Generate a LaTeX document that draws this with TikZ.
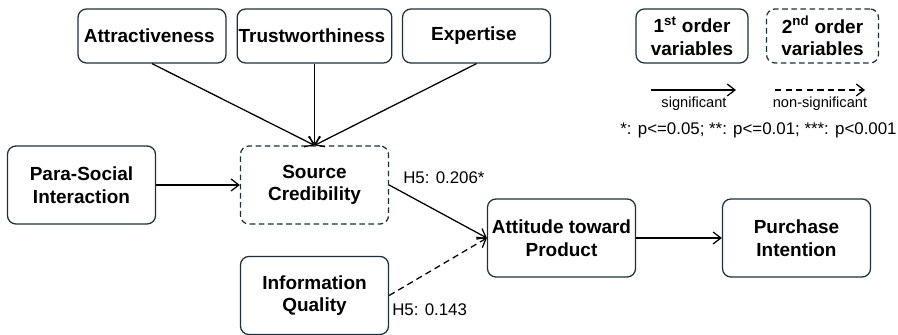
\documentclass[tikz,border=0pt]{standalone}
\usepackage{fontspec}
\setmainfont{Liberation Sans}
\usetikzlibrary{arrows.meta,positioning}
\definecolor{boxline}{RGB}{28,48,60}

\begin{document}
\begin{tikzpicture}[
    >={Straight Barb[length=5.5pt,width=8.5pt]},
    var/.style={
        rectangle,
        rounded corners=6pt,
        draw=boxline,
        line width=0.9pt,
        align=center,
        inner sep=1pt,
        minimum width=3.7cm,
        minimum height=1.95cm,
        font=\fontsize{13.5}{16}\selectfont\bfseries
    },
    topvar/.style={var, minimum height=1.35cm},
    second/.style={dash pattern=on 4pt off 2.5pt},
    keyvar/.style={var, minimum width=2.8cm, minimum height=1.35cm},
    lbl/.style={inner sep=0pt, font=\fontsize{12}{14}\selectfont},
    keylbl/.style={inner sep=0pt, font=\fontsize{10.4}{12}\selectfont},
    path/.style={->, black, line width=0.9pt},
    nonsig/.style={dash pattern=on 4.5pt off 3pt}
]
    \useasboundingbox (0, 0) rectangle (22.45, 8.375);

    % dimensions of source credibility
    \node (attractiveness) [topvar, shift={(3.8, 7.475)}]
    {
        Attractiveness
    };
    \node (trustworthiness) [topvar, shift={(7.8625, 7.475)}]
    {
        Trustworthiness
    };
    \node (expertise) [topvar, shift={(11.9125, 7.475)}]
    {
        Expertise
    };

    %model

    \node (para_social) [var, shift={(2.0375, 3.75)}]
    {
        Para-Social\\Interaction
    };
    \node (source_credibility) [var, second, shift={(7.8625, 3.75)}]
    {
        Source\\Credibility
    };
    \node (information_quality) [var, shift={(7.8625, 0.9875)}]
    {
        Information\\Quality
    };
    \node (attitude_product) [var, shift={(14.0375, 2.425)}]
    {
        Attitude toward\\Product
    };
    \node (purchase_intention) [var, shift={(19.9125, 2.425)}]
    {
        Purchase\\Intention
    };

    \node (h5_source) [lbl, anchor=west, shift={(10.075, 3.925)}]
    {
        H5: 0.206*
    };
    \node (h5_information) [lbl, anchor=west, shift={(9.8, 0.625)}]
    {
        H5: 0.143
    };

    %legend

    \node (first_order) [keyvar, shift={(17.3, 7.475)}]
    {
        1\textsuperscript{st} order\\variables
    };
    \node (second_order) [keyvar, second, shift={(20.5625, 7.475)}]
    {
        2\textsuperscript{nd} order\\variables
    };

    \coordinate (sig_start) at (16.275, 6.125);
    \coordinate (sig_end) at (18.4, 6.125);
    \coordinate (nonsig_start) at (19.375, 6.125);
    \coordinate (nonsig_end) at (21.625, 6.125);

    \node (significant) [keylbl, shift={(17.35, 5.775)}]
    {
        significant
    };
    \node (non_significant) [keylbl, shift={(20.5, 5.775)}]
    {
        non-significant
    };
    \node (p_values) [lbl, shift={(18.9625, 5.125)}]
    {
        *: p<=0.05; **: p<=0.01; ***: p<0.001
    };



    \draw[path] (attractiveness.south) to (source_credibility.north);
    \draw[path] (trustworthiness.south) to (source_credibility.north);
    \draw[path] (expertise.south) to (source_credibility.north);
    \draw[path] (para_social) to (source_credibility);
    \draw[path] (source_credibility.east) to (attitude_product.west);
    \draw[path, nonsig] (information_quality.east) to (attitude_product.west);
    \draw[path] (attitude_product) to (purchase_intention);

    \draw[path] (sig_start) to (sig_end);
    \draw[path, nonsig] (nonsig_start) to (nonsig_end);

\end{tikzpicture}
\end{document}
